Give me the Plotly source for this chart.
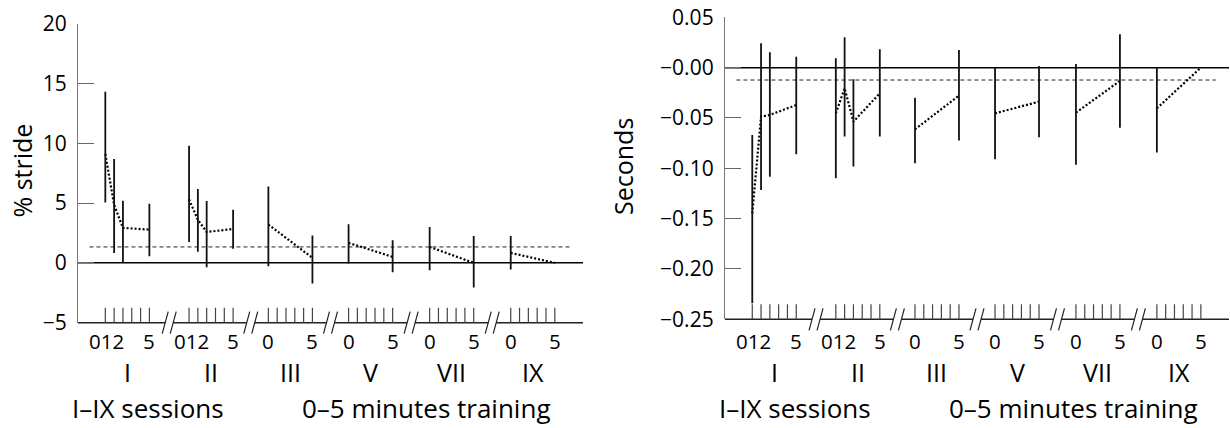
import plotly.graph_objects as go

W, H = 1230, 428
FONT = "Open Sans"

# ---------------- data ----------------
SESSIONS = ["I", "II", "III", "V", "VII", "IX"]
MINUTES = [[0, 1, 2, 5], [0, 1, 2, 5], [0, 5], [0, 5], [0, 5], [0, 5]]
MINUTE_LABELS = [["012", "5"], ["012", "5"], ["0", "5"], ["0", "5"], ["0", "5"], ["0", "5"]]
MINUTE_LABEL_POS = [[0.15, 5], [0.3, 5], [0, 5], [0, 5], [0, 5], [0, 5]]

STRIDE_MEAN = [[9.1, 4.85, 2.92, 2.78], [5.3, 3.6, 2.58, 2.83], [3.2, 0.42],
               [1.67, 0.5], [1.33, 0.0], [0.83, 0.0]]
STRIDE_LOW = [[5.05, 0.83, 0.0, 0.56], [1.75, 0.92, -0.36, 1.17], [-0.28, -1.72],
              [-0.06, -0.78], [-0.61, -2.06], [-0.56, None]]
STRIDE_HIGH = [[14.3, 8.67, 5.2, 4.94], [9.78, 6.17, 5.17, 4.44], [6.39, 2.28],
               [3.22, 1.89], [3.0, 2.25], [2.25, None]]
STRIDE_REF = 1.33

SEC_MEAN = [[-0.1447, -0.0487, -0.047, -0.0371], [-0.0454, -0.0205, -0.0536, -0.0255],
            [-0.0613, -0.0278], [-0.0454, -0.0338], [-0.0447, -0.0132], [-0.0404, 0.0]]
SEC_LOW = [[-0.234, -0.1215, -0.1083, -0.0861], [-0.11, -0.0685, -0.0983, -0.0685],
           [-0.095, -0.0725], [-0.091, -0.0692], [-0.0964, -0.0596], [-0.0844, None]]
SEC_HIGH = [[-0.0669, 0.0242, 0.0152, 0.0109], [0.0093, 0.0301, -0.0116, 0.0182],
            [-0.0298, 0.0175], [0.0, 0.0017], [0.0036, 0.0331], [0.0, None]]
SEC_REF = -0.0123

Y_TICKS_LEFT = [-5, 0, 5, 10, 15, 20]
Y_TICKTEXT_LEFT = ["\u22125", "0", "5", "10", "15", "20"]
Y_TICKS_RIGHT = [-0.25, -0.20, -0.15, -0.10, -0.05, 0.0, 0.05]
Y_TICKTEXT_RIGHT = ["\u22120.25", "\u22120.20", "\u22120.15", "\u22120.10", "\u22120.05", "\u22120.00", "0.05"]

Y_TITLE_LEFT = "% stride"
Y_TITLE_RIGHT = "Seconds"
BOTTOM_TEXT_1 = "I\u2013IX sessions"
BOTTOM_TEXT_2 = "0\u20135 minutes training"

# ---------------- layout geometry ----------------
GROUP_START = [0, 9.5, 18.5, 27.6, 36.8, 46.0]
XR = [-3.1, 54.2]
REF_X = [-1.8, 52.7]

PANELS = [
    dict(px0=78, px1=583, ytop=23.5, ybot=322.7, yr=[-5, 20], xa="x", ya="y",
         mean=STRIDE_MEAN, low=STRIDE_LOW, high=STRIDE_HIGH, ref=STRIDE_REF,
         tv=Y_TICKS_LEFT, tt=Y_TICKTEXT_LEFT, title=Y_TITLE_LEFT, tx=21.5, ty=171),
    dict(px0=725, px1=1229, ytop=17.3, ybot=319.3, yr=[-0.25, 0.05], xa="x2", ya="y2",
         mean=SEC_MEAN, low=SEC_LOW, high=SEC_HIGH, ref=SEC_REF,
         tv=Y_TICKS_RIGHT, tt=Y_TICKTEXT_RIGHT, title=Y_TITLE_RIGHT, tx=623, ty=167),
]

fig = go.Figure()
shapes = []
annotations = []

for p in PANELS:
    xa, ya = p["xa"], p["ya"]
    ppu = (p["px1"] - p["px0"]) / (XR[1] - XR[0])  # pixels per unit
    ybot_paper = (H - p["ybot"]) / H

    lx, ly = [], []
    ex, ey, eplus, eminus = [], [], [], []
    for g, mins in enumerate(MINUTES):
        for i, m in enumerate(mins):
            x = GROUP_START[g] + m
            mu = p["mean"][g][i]
            lx.append(x)
            ly.append(mu)
            lo, hi = p["low"][g][i], p["high"][g][i]
            if lo is not None and hi is not None:
                ex.append(x)
                ey.append(mu)
                eplus.append(hi - mu)
                eminus.append(mu - lo)
        lx.append(None)
        ly.append(None)

    fig.add_trace(go.Scatter(
        x=lx, y=ly, mode="lines", xaxis=xa, yaxis=ya, showlegend=False,
        line=dict(color="black", width=2.2, dash="2px,2px"), hoverinfo="skip"))
    fig.add_trace(go.Scatter(
        x=ex, y=ey, mode="markers", xaxis=xa, yaxis=ya, showlegend=False,
        marker=dict(size=1, color="rgba(0,0,0,0)"),
        error_y=dict(type="data", symmetric=False, array=eplus, arrayminus=eminus,
                     width=0, thickness=1.8, color="#111")))

    xref, yref = xa, ya

    shapes.append(dict(type="line", xref=xref, yref=yref, x0=XR[0], x1=XR[1], y0=0, y1=0,
                       line=dict(color="black", width=1.5), layer="below"))
    shapes.append(dict(type="line", xref=xref, yref=yref, x0=REF_X[0], x1=REF_X[1],
                       y0=p["ref"], y1=p["ref"],
                       line=dict(color="#222", width=1, dash="4px,3px"), layer="below"))

    # broken x axis (paper-referenced in y so it is not clipped)
    gap = 4.0 / ppu
    breaks = [(GROUP_START[k - 1] + 5 + GROUP_START[k]) / 2 for k in range(1, len(GROUP_START))]
    seg_edges = [XR[0]]
    for b in breaks:
        seg_edges += [b - gap, b + gap]
    seg_edges.append(XR[1])
    for s in range(0, len(seg_edges), 2):
        shapes.append(dict(type="line", xref=xref, yref="paper", x0=seg_edges[s], x1=seg_edges[s + 1],
                           y0=ybot_paper, y1=ybot_paper, line=dict(color="#222", width=1.5)))
    for b in breaks:
        for off in (-4, 4):
            shapes.append(dict(type="line", xref=xref, yref="paper", xsizemode="pixel", xanchor=b,
                               x0=off - 3, x1=off + 3, ysizemode="pixel", yanchor=ybot_paper,
                               y0=-11, y1=11, line=dict(color="#222", width=1.2)))
    for g in range(len(GROUP_START)):
        for m in range(6):
            shapes.append(dict(type="line", xref=xref, yref="paper", x0=GROUP_START[g] + m,
                               x1=GROUP_START[g] + m, ysizemode="pixel", yanchor=ybot_paper,
                               y0=0, y1=15, line=dict(color="#444", width=1.2)))

    for g, sess in enumerate(SESSIONS):
        for lab, pos in zip(MINUTE_LABELS[g], MINUTE_LABEL_POS[g]):
            annotations.append(dict(text=lab, xref=xref, x=GROUP_START[g] + pos, yref="paper",
                                    y=(H - 341) / H, xanchor="center", yanchor="middle",
                                    showarrow=False, font=dict(family=FONT, size=20.5, color="black")))
        annotations.append(dict(text=sess, xref=xref, x=GROUP_START[g] + 2.5, yref="paper",
                                y=(H - 371.5) / H, xanchor="center", yanchor="middle",
                                showarrow=False, font=dict(family=FONT, size=25, color="black")))
    annotations.append(dict(text=BOTTOM_TEXT_1, xref="paper", x=(p["px0"] - 8) / W, yref="paper",
                            y=(H - 408) / H, xanchor="left", yanchor="middle", showarrow=False,
                            font=dict(family=FONT, size=26, color="black")))
    annotations.append(dict(text=BOTTOM_TEXT_2, xref="paper", x=(p["px0"] + 222) / W, yref="paper",
                            y=(H - 408) / H, xanchor="left", yanchor="middle", showarrow=False,
                            font=dict(family=FONT, size=26, color="black")))
    annotations.append(dict(text=p["title"], xref="paper", x=p["tx"] / W, yref="paper",
                            y=(H - p["ty"]) / H, xanchor="center", yanchor="middle",
                            textangle=-90, showarrow=False,
                            font=dict(family=FONT, size=25, color="black")))

common_x = dict(range=XR, showline=False, showticklabels=False, ticks="", showgrid=False,
                zeroline=False, fixedrange=True, automargin=False)
def yax(p):
    return dict(range=p["yr"], tickmode="array", tickvals=p["tv"], ticktext=p["tt"],
                showline=True, linecolor="#777", linewidth=1.3, ticks="inside", ticklen=16,
                tickwidth=1.3, tickcolor="#666", showgrid=False, zeroline=False,
                ticklabelstandoff=6, automargin=False,
                tickfont=dict(family=FONT, size=21, color="black"),
                domain=[(H - p["ybot"]) / H, (H - p["ytop"]) / H])

fig.update_layout(
    width=W, height=H, margin=dict(l=0, r=0, t=0, b=0, pad=0, autoexpand=False),
    paper_bgcolor="white", plot_bgcolor="white", showlegend=False,
    xaxis=dict(common_x, domain=[PANELS[0]["px0"] / W, PANELS[0]["px1"] / W], anchor="y"),
    yaxis=dict(yax(PANELS[0]), anchor="x"),
    xaxis2=dict(common_x, domain=[PANELS[1]["px0"] / W, PANELS[1]["px1"] / W], anchor="y2"),
    yaxis2=dict(yax(PANELS[1]), anchor="x2"),
    shapes=shapes, annotations=annotations,
    font=dict(family=FONT, color="black"),
)

fig.write_html("out.html")
